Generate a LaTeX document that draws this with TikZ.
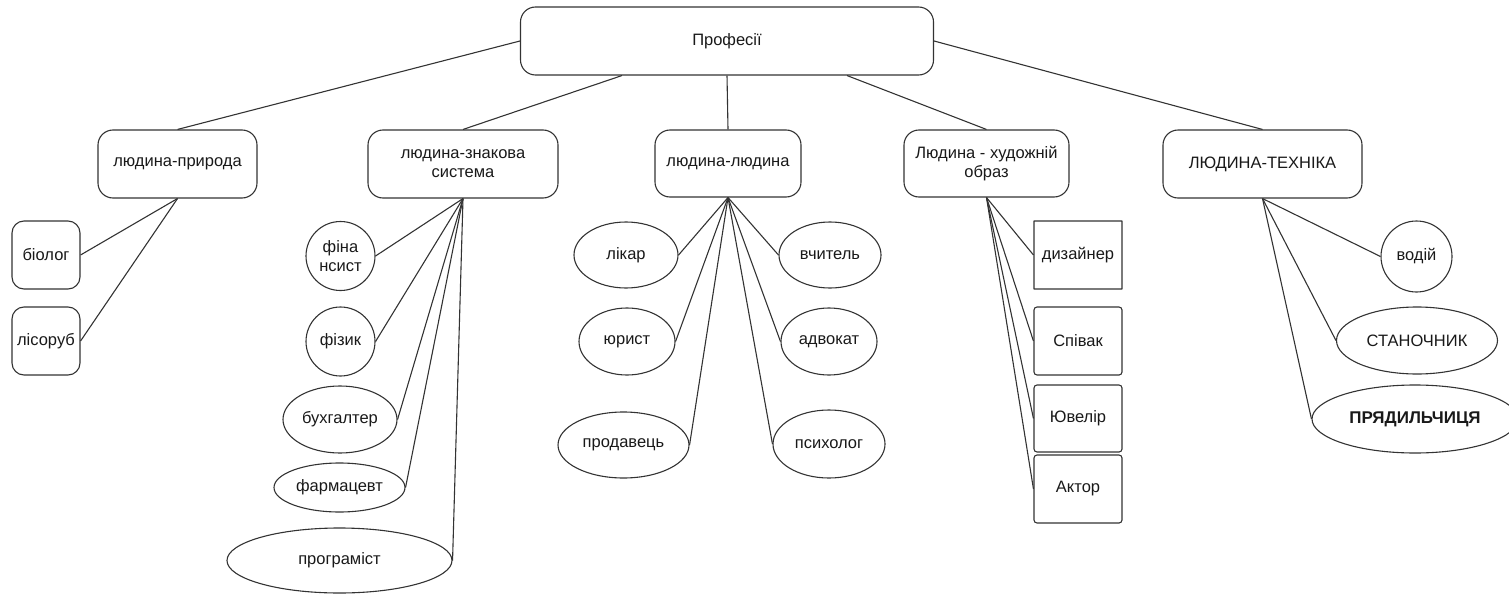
\documentclass[tikz,border=0pt]{standalone}
\usepackage{fontspec}
\setmainfont{Liberation Sans}
\usetikzlibrary{shapes.geometric}
\tikzset{
  every node/.style={text=black!90, font=\fontsize{16.5}{19}\selectfont, inner sep=0pt},
  conn/.style={draw=black!80, line width=1.1pt},
  topbox/.style={draw=black!80, line width=1.1pt, rounded corners=15pt, align=center},
  rbox/.style={draw=black!80, line width=1.1pt, rounded corners=12pt},
  sbox/.style={draw=black!80, line width=1.1pt, rounded corners=3pt, minimum width=88pt, minimum height=68pt},
  circ/.style={draw=black!80, line width=1.1pt, circle},
  ell/.style={draw=black!80, line width=1.1pt, ellipse},
}
\begin{document}
\begin{tikzpicture}[x=1pt,y=-1pt]
\useasboundingbox (0,0) rectangle (1509,594);
% root
\node[topbox, minimum width=413pt, minimum height=68pt] (root) at (727,41) {Професії};
% level 1
\node[topbox, minimum width=159pt, minimum height=68pt] (pryr) at (177.5,164) {людина-природа};
\node[topbox, minimum width=190pt, minimum height=68pt] (znak) at (463,164) {людина-знакова\\система};
\node[topbox, minimum width=146pt, minimum height=67pt] (lyud) at (728,163.5) {людина-людина};
\node[topbox, minimum width=165pt, minimum height=67pt] (khud) at (986.5,163.5) {Людина - художній\\образ};
\node[topbox, minimum width=199pt, minimum height=68pt] (tekh) at (1262.5,164) {ЛЮДИНА-ТЕХНІКА};
% root connectors
\draw[conn] (root.west) -- (pryr.north);
\draw[conn] ([xshift=-105pt]root.south) -- (znak.north);
\draw[conn] (root.south) -- (lyud.north);
\draw[conn] ([xshift=120pt]root.south) -- (khud.north);
\draw[conn] (root.east) -- (tekh.north);
% людина-природа
\node[rbox, minimum width=68pt, minimum height=68pt] (biol) at (46,255) {біолог};
\node[rbox, minimum width=68pt, minimum height=68pt] (lis) at (46,341) {лісоруб};
\draw[conn] (pryr.south) -- (biol.east);
\draw[conn] (pryr.south) -- (lis.east);
% людина-знакова система
\node[circ, minimum size=69pt, align=center] (fin) at (340.5,256) {фіна\\нсист};
\node[circ, minimum size=69pt] (fiz) at (340.5,341.5) {фізик};
\node[ell, minimum width=114pt, minimum height=67pt] (bukh) at (340,419.5) {бухгалтер};
\node[ell, minimum width=131pt, minimum height=49pt] (farm) at (339.5,487.5) {фармацевт};
\node[ell, minimum width=225pt, minimum height=65pt] (prog) at (339.5,560.5) {програміст};
\foreach \c in {fin,fiz,bukh,farm,prog} \draw[conn] (znak.south) -- (\c.east);
% людина-людина
\node[ell, minimum width=104pt, minimum height=66pt] (likar) at (626,255) {лікар};
\node[ell, minimum width=96pt, minimum height=67pt] (yuryst) at (627,341.5) {юрист};
\node[ell, minimum width=131pt, minimum height=66pt] (prod) at (623.5,445) {продавець};
\node[ell, minimum width=102pt, minimum height=66pt] (vchyt) at (830,255) {вчитель};
\node[ell, minimum width=96pt, minimum height=67pt] (advok) at (829,341.5) {адвокат};
\node[ell, minimum width=112pt, minimum height=68pt] (psykh) at (829,444) {психолог};
\foreach \c in {likar,yuryst,prod} \draw[conn] (lyud.south) -- (\c.east);
\foreach \c in {vchyt,advok,psykh} \draw[conn] (lyud.south) -- (\c.west);
% Людина - художній образ
\node[sbox, rounded corners=0.2pt] (dyz) at (1078,255) {дизайнер};
\node[sbox] (spiv) at (1078,341) {Співак};
\node[sbox, minimum height=67pt] (yuvel) at (1078,418.5) {Ювелір};
\node[sbox] (aktor) at (1078,489) {Актор};
\foreach \c in {dyz,spiv,yuvel,aktor} \draw[conn] (khud.south) -- (\c.west);
% ЛЮДИНА-ТЕХНІКА
\node[circ, minimum size=71pt] (vodii) at (1416.5,256.5) {водій};
\node[ell, minimum width=161pt, minimum height=67pt] (stan) at (1417,340.5) {СТАНОЧНИК};
\node[ell, minimum width=206pt, minimum height=68pt, font=\fontsize{17}{20}\selectfont\bfseries] (pryad) at (1415,419) {ПРЯДИЛЬЧИЦЯ};
\foreach \c in {vodii,stan,pryad} \draw[conn] (tekh.south) -- (\c.west);
\end{tikzpicture}
\end{document}
